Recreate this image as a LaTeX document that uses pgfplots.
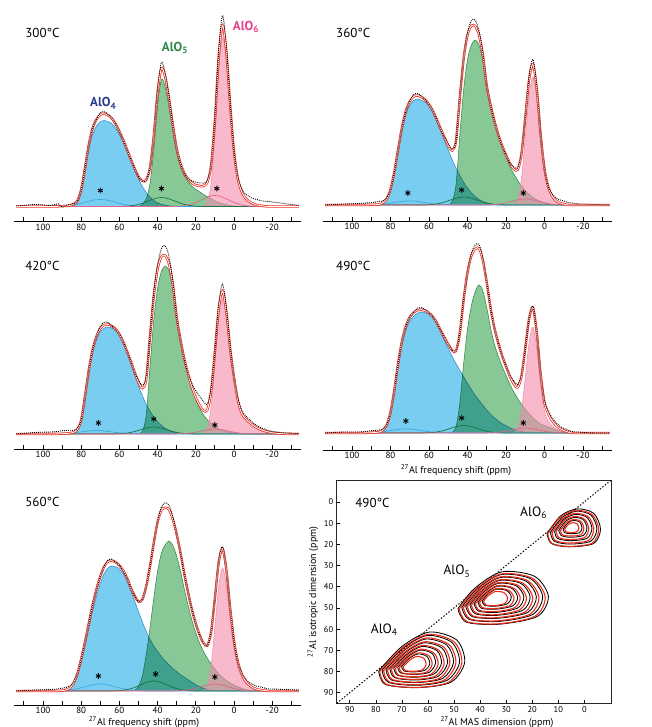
\documentclass[border=0pt]{standalone}
\usepackage{pgfplots}
\pgfplotsset{compat=1.18}
\usepackage{pgfplotstable}
\usepackage{fontspec}
\setmainfont{PT Sans}

\definecolor{bluefill}{RGB}{120,205,240}
\definecolor{greenfill}{RGB}{135,200,150}
\definecolor{pinkfill}{RGB}{243,138,172}
\definecolor{blueedge}{RGB}{80,150,205}
\definecolor{greenedge}{RGB}{70,150,95}
\definecolor{pinkedge}{RGB}{235,135,170}
\definecolor{bsline}{RGB}{60,170,225}
\definecolor{gsline}{RGB}{25,115,65}
\definecolor{psline}{RGB}{225,100,140}
\definecolor{fitred}{RGB}{235,50,35}
\definecolor{lblue}{RGB}{40,60,140}
\definecolor{lgreen}{RGB}{45,135,70}
\definecolor{lpink}{RGB}{232,65,140}
\definecolor{cred}{RGB}{232,45,25}

% columns: shift, AlO4, AlO5, AlO6, three minor sites, total fit, measured
\pgfplotstableread{
x b g p bs gs ps f d
114 0 0 0 0 0 0 0 0.5
104 0 0 0 0 0 0 0 2
96 0 0 0 0 0 0 0 1
92 0 0 0 0.15 0 0 0.15 2.65
90 0 0 0 0.3 0 0 0.3 -0.7
88 0 0 0 0.6 0 0 0.6 1.1
86 0 0 0 0.9 0 0 0.9 1.9
84 0.9 0 0 1.5 0 0 2.4 2.9
82 3.4 0 0 2.3 0 0 5.7 5.7
80 13.8 0 0 3.2 0 0 17.0 17.0
78 34.4 0 0 4.2 0 0 38.6 38.6
76 56.8 0 0 5.3 0 0 62.1 62.1
74 72.2 0 0 6.2 0 0 78.4 78.4
72 80.4 0 0 6.8 0 0 87.2 87.2
70 84.7 0 0 7 0 0 91.7 93.7
68 86 0 0 6.8 0 0 92.8 94.8
66 85.1 0 0 6.2 0 0 91.3 92.3
64 83.0 0 0 5.3 0 0 88.3 88.3
62 78.3 0 0 4.2 0 0 82.5 82.5
60 71.8 0 0 3.2 0 0 75.0 75.0
58 64.1 0 0 2.3 0.15 0 66.6 66.6
56 55.0 0 0 1.5 0.3 0 56.8 56.8
54 45.6 0 0 0.9 0.7 0 47.2 47.2
52 36.1 0 0 0.6 1.2 0 37.9 37.9
50 27.5 0 0 0.3 2.1 0 29.9 29.9
48 20.2 1.9 0 0.15 3.2 0 25.5 25.5
46 14.2 7.6 0 0 4.7 0 26.5 26.5
44 9.5 22.9 0 0 6.2 0 38.6 38.6
42 6.0 57.2 0 0 7.6 0 70.8 70.8
40 3.7 101.6 0 0 8.6 0 113.9 116.9
38 2.2 127 0 0 9 0 138.2 144.2
36 1.2 119.4 0 0 8.6 0 129.2 133.2
34 0.6 99.1 0 0 7.6 0 107.3 109.3
32 0.3 74.9 0 0 6.2 0 81.4 82.4
30 0 53.3 0 0 4.7 0.2 58.2 58.2
28 0 39.4 0 0 3.2 0.4 43.0 43.0
26 0 30.5 0 0 2.1 0.8 33.4 33.4
24 0 24.8 0 0 1.2 1.5 27.5 27.5
22 0 20.3 0 0 0.7 2.5 23.5 25.5
20 0 17.1 0 0 0.3 4.0 21.4 24.4
18 0 14.6 0 0 0.15 5.7 20.5 23.5
16 0 12.1 0.7 0 0 7.6 20.4 23.4
14 0 9.8 4.9 0 0 9.3 24.0 26.0
12 0 7.6 22.8 0 0 10.6 41.0 42.0
10 0 5.7 69.3 0 0 11 86.0 88.0
8 0 4.1 135.2 0 0 10.6 149.9 155.9
6 0 2.8 169 0 0 9.3 181.1 191.1
4 0 1.8 145.3 0 0 7.6 154.7 159.7
2 0 1.0 94.6 0 0 5.7 101.3 103.3
0 0 0.5 50.7 0 0 4.0 55.2 56.2
-2 0 0 25.4 0 0 2.5 27.9 29.9
-4 0 0 13.5 0 0 1.5 15.0 18.0
-6 0 0 7.6 0 0 0.8 8.4 12.4
-8 0 0 4.6 0 0 0.4 5.0 10.0
-10 0 0 2.7 0 0 0.2 2.9 7.9
-12 0 0 1.5 0 0 0 1.5 7.0
-14 0 0 0.8 0 0 0 0.8 5.8
-16 0 0 0.3 0 0 0 0.3 5.3
-18 0 0 0 0 0 0 0 5
-20 0 0 0 0 0 0 0 4.5
-26 0 0 0 0 0 0 0 3
-34 0 0 0 0 0 0 0 1
}\tabA

\pgfplotstableread{
x b g p bs gs ps f d
114 0 0 0 0 0 0 0 0
104 0 0 0 0 0 0 0 1
96 0 0 0 0 0 0 0 1.5
92 0 0 0 0.1 0 0 0.1 2.1
90 0 0 0 0.2 0 0 0.2 2.2
88 0 0 0 0.3 0 0 0.3 2.8
86 0 0 0 0.5 0 0 0.5 3.5
84 1.3 0 0 0.9 0 0 2.2 4.2
82 4.8 0 0 1.3 0 0 6.1 7.1
80 13.8 0 0 1.8 0 0 15.6 15.6
78 30.7 0 0 2.4 0 0 33.1 33.1
76 53.0 0 0 3.0 0 0 56.0 56.0
74 74.2 0 0 3.5 0 0 77.7 77.7
72 90.1 0 0 3.9 0 0 94.0 94.0
70 99.6 0 0 4 0 0 103.6 103.6
68 104.4 0 0 3.9 0 0 108.3 110.3
66 106 0 0 3.5 0 0 109.5 111.5
64 104.9 0 0 3.0 0 0 107.9 108.9
62 102.8 0 0 2.4 0.1 0 105.3 105.3
60 98.6 0 0 1.8 0.3 0 100.7 100.7
58 92.2 0 0 1.3 0.6 0 94.1 94.1
56 83.7 0 0 0.9 1.1 0 85.7 85.7
54 74.2 0 0 0.5 1.8 0 76.5 76.5
52 64.7 0 0 0.3 2.9 0 67.9 67.9
50 55.1 0 0 0.2 4.2 0 59.5 61.0
48 45.6 3.3 0 0.1 5.5 0 54.5 55.5
46 37.1 19.8 0 0 6.8 0 63.7 63.7
44 29.7 69.3 0 0 7.7 0 106.7 106.7
42 22.8 115.5 0 0 8 0 146.3 146.3
40 17.0 145.2 0 0 7.7 0 169.9 171.9
38 12.2 160.1 0 0 6.8 0 179.1 184.1
36 8.5 165 0 0 5.5 0 179.0 185.0
34 5.6 160.1 0 0 4.2 0 169.9 173.9
32 3.5 143.6 0 0 2.9 0 150.0 152.0
30 2.1 115.5 0 0 1.8 0.1 119.5 119.5
28 1.2 97.4 0 0 1.1 0.2 99.9 99.9
26 0.5 82.5 0 0 0.6 0.4 84.0 84.0
24 0 69.3 0 0 0.3 0.8 70.4 70.4
22 0 57.8 0 0 0.1 1.4 59.3 59.3
20 0 47.9 0 0 0 2.2 50.1 50.1
18 0 38.8 0 0 0 3.1 41.9 41.9
16 0 31.4 0.6 0 0 4.2 36.2 38.2
14 0 24.8 5.1 0 0 5.1 35.0 37.0
12 0 19.0 25.6 0 0 5.8 50.4 51.4
10 0 14.4 66.6 0 0 6 87.0 87.0
8 0 10.6 108.8 0 0 5.8 125.2 128.2
6 0 7.6 128 0 0 5.1 140.7 145.7
4 0 5.3 106.2 0 0 4.2 115.7 118.7
2 0 3.5 64 0 0 3.1 70.6 71.6
0 0 2.1 32 0 0 2.2 36.3 36.3
-2 0 1.2 15.4 0 0 1.4 18.0 18.0
-4 0 0.5 7.7 0 0 0.8 9.0 11.0
-6 0 0 3.8 0 0 0.4 4.2 7.2
-8 0 0 1.9 0 0 0.2 2.1 5.1
-10 0 0 0.9 0 0 0.1 1.0 4.0
-12 0 0 0 0 0 0 0 2.5
-14 0 0 0 0 0 0 0 2
-16 0 0 0 0 0 0 0 1.5
-18 0 0 0 0 0 0 0 1
-20 0 0 0 0 0 0 0 1
-26 0 0 0 0 0 0 0 0.5
-34 0 0 0 0 0 0 0 0
}\tabB

\pgfplotstableread{
x b g p bs gs ps f d
114 0 0 0 0 0 0 0 0
104 0 0 0 0 0 0 0 1.5
96 0 0 0 0 0 0 0 2
92 0 0 0 0.15 0 0 0.15 2.65
90 0 0 0 0.3 0 0 0.3 3.3
88 0 0 0 0.5 0 0 0.5 3.5
86 0 0 0 0.8 0 0 0.8 3.8
84 0.5 0 0 1.1 0 0 1.6 3.6
82 3.2 0 0 1.6 0 0 4.8 5.8
80 11.8 0 0 2.1 0 0 13.9 13.9
78 35.3 0 0 2.6 0 0 37.9 37.9
76 61.0 0 0 3.1 0 0 64.1 64.1
74 81.3 0 0 3.4 0 0 84.7 84.7
72 94.2 0 0 3.5 0 0 97.7 97.7
70 102.2 0 0 3.4 0 0 105.6 107.6
68 105.9 0 0 3.1 0 0 109.0 111.5
66 107 0 0 2.6 0 0 109.6 111.6
64 105.9 0 0 2.1 0 0 108.0 108.0
62 103.3 0 0 1.6 0.1 0 105.0 105.0
60 98.4 0 0 1.1 0.3 0 99.8 99.8
58 91.0 0 0 0.8 0.5 0 92.3 92.3
56 81.3 0 0 0.5 0.9 0 82.7 82.7
54 70.6 0 0 0.3 1.6 0 72.5 72.5
52 58.9 0 0 0.15 2.5 0 61.6 61.6
50 48.2 0 0 0 3.6 0 51.8 53.8
48 38.5 2.5 0 0 4.8 0 45.8 48.8
46 30.0 18.4 0 0 5.9 0 54.3 56.3
44 23.0 67.2 0 0 6.7 0 96.9 96.9
42 17.1 114.1 0 0 7 0 138.2 140.2
40 12.3 146.1 0 0 6.7 0 165.1 169.1
38 8.6 162.8 0 0 5.9 0 177.3 185.3
36 5.7 167.9 0 0 4.8 0 178.4 188.4
34 3.6 162.8 0 0 3.6 0 170.0 177.0
32 2.1 144.4 0 0 2.5 0 149.0 152.0
30 1.2 114.1 0 0 1.6 0.1 117.0 117.0
28 0.5 92.4 0 0 0.9 0.2 94.0 94.0
26 0 73.9 0 0 0.5 0.4 74.8 74.8
24 0 58.8 0 0 0.3 0.7 59.8 59.8
22 0 45.3 0 0 0.1 1.1 46.5 50.5
20 0 34.4 0 0 0 1.8 36.2 43.2
18 0 26.1 0 0 0 2.6 28.7 37.7
16 0 19.3 0.7 0 0 3.5 23.5 32.5
14 0 14.3 5.4 0 0 4.2 23.9 29.9
12 0 10.4 27.0 0 0 4.8 42.2 45.2
10 0 7.5 70.2 0 0 5 82.7 82.7
8 0 5.4 114.8 0 0 4.8 125.0 129.0
6 0 3.7 135 0 0 4.2 142.9 149.9
4 0 2.5 116.1 0 0 3.5 122.1 126.1
2 0 1.6 81.0 0 0 2.6 85.2 87.2
0 0 1.0 54.0 0 0 1.8 56.8 56.8
-2 0 0.5 32.4 0 0 1.1 34.0 36.0
-4 0 0 20.3 0 0 0.7 21.0 24.0
-6 0 0 15 0 0 0.4 15.4 18.4
-8 0 0 11.5 0 0 0.2 11.7 14.7
-10 0 0 8.5 0 0 0.1 8.6 11.1
-12 0 0 6.2 0 0 0 6.2 8.2
-14 0 0 4.4 0 0 0 4.4 6.4
-16 0 0 3.0 0 0 0 3.0 5.0
-18 0 0 2.0 0 0 0 2.0 3.5
-20 0 0 1.2 0 0 0 1.2 2.7
-26 0 0 0.2 0 0 0 0.2 1.2
-34 0 0 0 0 0 0 0 0.5
}\tabC

\pgfplotstableread{
x b g p bs gs ps f d
114 0 0 0 0 0 0 0 0
104 0 0 0 0 0 0 0 1
96 0 0 0 0 0 0 0 1
92 0 0 0 0.2 0 0 0.2 1.7
90 0 0 0 0.3 0 0 0.3 2.3
88 0 0 0 0.5 0 0 0.5 2.5
86 0 0 0 0.9 0 0 0.9 2.9
84 1.5 0 0 1.3 0 0 2.8 3.8
82 6.1 0 0 1.8 0 0 7.9 7.9
80 18.2 0 0 2.4 0 0 20.6 20.6
78 39.9 0 0 3.0 0 0 42.9 42.9
76 66.6 0 0 3.5 0 0 70.1 70.1
74 88.3 0 0 3.9 0 0 92.2 92.2
72 102.9 0 0 4 0 0 106.9 106.9
70 111.9 0 0 3.9 0 0 115.8 115.8
68 116.8 0 0 3.5 0 0 120.3 120.3
66 119.8 0 0 3.0 0 0 122.8 124.8
64 121 0 0 2.4 0 0 123.4 125.4
62 120.4 0 0 1.8 0.1 0 122.3 123.3
60 118.6 0 0 1.3 0.3 0 120.2 120.2
58 115.0 0 0 0.9 0.5 0 116.4 116.4
56 108.9 0 0 0.5 1.0 0 110.4 110.4
54 101.0 0 0 0.3 1.7 0 103.0 103.0
52 92.6 0 0 0.2 2.7 0 95.5 95.5
50 84.7 0 0 0.1 3.9 0 88.7 88.7
48 76.8 0.7 0 0 5.2 0 82.7 82.7
46 69.6 5.9 0 0 6.4 0 81.9 81.9
44 62.9 29.6 0 0 7.2 0 99.7 99.7
42 56.3 69.6 0 0 7.5 0 133.4 133.4
40 49.6 103.6 0 0 7.2 0 160.4 160.4
38 43.6 127.3 0 0 6.4 0 177.3 179.3
36 37.5 141.3 0 0 5.2 0 184.0 188.0
34 32.7 148 0 0 3.9 0 184.6 188.6
32 27.8 142.1 0 0 2.7 0 172.6 174.6
30 23.0 125.8 0 0 1.7 0.1 150.6 150.6
28 18.8 105.1 0 0 1.0 0.2 125.1 125.1
26 15.1 88.8 0 0 0.5 0.4 104.8 104.8
24 12.1 77.0 0 0 0.3 0.7 90.1 90.1
22 9.4 66.6 0 0 0.1 1.1 77.2 77.2
20 7.3 57.7 0 0 0 1.8 66.8 66.8
18 5.3 48.8 0 0 0 2.6 56.7 57.7
16 3.8 41.4 0.5 0 0 3.5 49.2 52.2
14 2.4 34.8 4.2 0 0 4.2 45.6 48.6
12 1.5 28.9 21.2 0 0 4.8 56.4 57.4
10 0.7 23.7 55.1 0 0 5 84.5 84.5
8 0 19.2 90.1 0 0 4.8 114.1 114.1
6 0 15.2 106 0 0 4.2 125.4 126.9
4 0 11.8 84.8 0 0 3.5 100.1 100.1
2 0 8.9 47.7 0 0 2.6 59.2 59.2
0 0 7.4 21.2 0 0 1.8 30.4 32.4
-2 0 6.0 12 0 0 1.1 19.1 22.1
-4 0 4.5 7 0 0 0.7 12.2 15.2
-6 0 3 4 0 0 0.4 7.4 10.4
-8 0 2 2.2 0 0 0.2 4.4 6.9
-10 0 1.2 1.2 0 0 0.1 2.5 4.5
-12 0 0.6 0.5 0 0 0 1.1 3.1
-14 0 0 0 0 0 0 0 1.5
-16 0 0 0 0 0 0 0 1
-18 0 0 0 0 0 0 0 1
-20 0 0 0 0 0 0 0 0.5
-26 0 0 0 0 0 0 0 0
-34 0 0 0 0 0 0 0 0
}\tabD

\pgfplotstableread{
x b g p bs gs ps f d
114 0 0 0 0 0 0 0 0
104 0 0 0 0 0 0 0 1
96 0 0 0 0 0 0 0 1.5
92 0 0 0 0.15 0 0 0.15 2.15
90 0 0 0 0.3 0 0 0.3 2.8
88 0.4 0 0 0.6 0 0 1.0 3.5
86 1.9 0 0 0.9 0 0 2.8 4.8
84 6.3 0 0 1.5 0 0 7.8 8.8
82 15.0 0 0 2.3 0 0 17.3 17.3
80 28.8 0 0 3.2 0 0 32.0 32.0
78 45.0 0 0 4.2 0 0 49.2 49.2
76 62.5 0 0 5.3 0 0 67.8 67.8
74 80.0 0 0 6.2 0 0 86.2 86.2
72 95.0 0 0 6.8 0 0 101.8 101.8
70 107.5 0 0 7 0 0 114.5 114.5
68 117.5 0 0 6.8 0 0 124.3 124.3
66 123.1 0 0 6.2 0 0 129.3 130.8
64 125 0 0 5.3 0 0 130.3 131.8
62 124.4 0 0 4.2 0.2 0 128.8 128.8
60 121.9 0 0 3.2 0.4 0 125.5 125.5
58 117.5 0 0 2.3 0.7 0 120.5 120.5
56 110.0 0 0 1.5 1.4 0 112.9 112.9
54 100.0 0 0 0.9 2.3 0 103.2 103.2
52 90.0 0.8 0 0.6 3.6 0 95.0 95.0
50 79.4 4.5 0 0.3 5.2 0 89.4 89.4
48 69.4 15.0 0 0.15 6.9 0 91.5 91.5
46 60.0 36.0 0 0 8.5 0 104.5 104.5
44 51.9 63.0 0 0 9.6 0 124.5 124.5
42 45.0 93.0 0 0 10 0 148.0 148.0
40 39.4 120.0 0 0 9.6 0 169.0 169.0
38 34.4 138.0 0 0 8.5 0 180.9 183.9
36 30.0 146.3 0 0 6.9 0 183.2 188.2
34 26.3 150 0 0 5.2 0 181.5 185.5
32 22.5 145.5 0 0 3.6 0 171.6 173.6
30 19.4 135.0 0 0 2.3 0.1 156.8 156.8
28 16.3 120.0 0 0 1.4 0.3 138.0 138.0
26 13.8 102.0 0 0 0.7 0.5 117.0 117.0
24 11.3 85.5 0 0 0.4 1.0 98.2 98.2
22 8.8 70.5 0 0 0.2 1.6 81.1 81.1
20 6.3 58.5 0 0 0 2.5 67.3 67.3
18 4.4 48.0 0 0 0 3.6 56.0 56.0
16 2.8 39.8 0.6 0 0 4.9 48.1 48.1
14 1.5 33.0 4.9 0 0 5.9 45.3 45.3
12 0.6 27.0 24.6 0 0 6.7 58.9 58.9
10 0 21.8 64.0 0 0 7 92.8 92.8
8 0 17.3 104.6 0 0 6.7 128.6 129.6
6 0 13.5 123 0 0 5.9 142.4 144.4
4 0 10.5 105.8 0 0 4.9 121.2 121.2
2 0 8.0 71.3 0 0 3.6 82.9 82.9
0 0 6.0 41.8 0 0 2.5 50.3 50.3
-2 0 4.2 23.4 0 0 1.6 29.2 29.2
-4 0 2.7 13.5 0 0 1.0 17.2 18.2
-6 0 1.5 8.0 0 0 0.5 10.0 12.0
-8 0 0.8 4.9 0 0 0.3 6.0 8.5
-10 0 0 3.1 0 0 0.1 3.2 6.2
-12 0 0 1.8 0 0 0 1.8 4.8
-14 0 0 1.0 0 0 0 1.0 4.0
-16 0 0 0.5 0 0 0 0.5 3.0
-18 0 0 0 0 0 0 0 2
-20 0 0 0 0 0 0 0 2
-26 0 0 0 0 0 0 0 1.5
-34 0 0 0 0 0 0 0 1
}\tabE

\pgfplotsset{
  spec/.style={
    scale only axis,
    xmin=-35, xmax=115, x dir=reverse,
    ymax=200,
    axis x line=bottom, axis y line=none,
    axis line style={-, line width=0.9pt},
    every outer x axis line/.append style={-},
    xtick={-20,0,20,40,60,80,100},
    xticklabels={-20,0,20,40,60,80,100},
    minor xtick={-30,-10,10,30,50,70,90,110},
    tick align=inside,
    major tick length=4pt, minor tick length=4pt,
    every tick/.style={black, line width=0.8pt},
    xticklabel style={font=\fontsize{9}{10}\selectfont, yshift=1.2pt},
    clip=false,
  },
  star/.style={only marks, mark=asterisk, mark size=2.8pt,
    mark options={black, line width=0.9pt}},
  blk/.style={black, line width=0.85pt, smooth},
  rd/.style={cred, line width=1.1pt, smooth},
}

\newcommand{\drawspectrum}[1]{%
  \addplot[draw=blueedge, line width=0.5pt, fill=bluefill, blend mode=multiply, smooth] table[x=x,y=b]{#1};
  \addplot[draw=greenedge, line width=0.5pt, fill=greenfill, blend mode=multiply, smooth] table[x=x,y=g]{#1};
  \addplot[draw=pinkedge, line width=0.5pt, fill=pinkfill, fill opacity=0.6, smooth] table[x=x,y=p]{#1};
  \addplot[bsline, line width=0.7pt, smooth] table[x=x,y=bs]{#1};
  \addplot[gsline, line width=0.7pt, smooth] table[x=x,y=gs]{#1};
  \addplot[psline, line width=0.7pt, smooth] table[x=x,y=ps]{#1};
  \addplot[fitred, line width=2.4pt, smooth] table[x=x,y=f]{#1};
  \addplot[white, line width=0.8pt, smooth] table[x=x,y=f]{#1};
  \addplot[black, line width=0.9pt, dash pattern=on 0.9pt off 1.1pt, smooth] table[x=x,y=d]{#1};
}

\begin{document}
\begin{tikzpicture}[x=1pt, y=1pt]
\path[use as bounding box] (0,0) rectangle (651,727);

% 300 C
\begin{axis}[spec, at={(14.35pt,505.5pt)}, anchor=south west, width=286.5pt, ymin=-15, height=215pt]
\drawspectrum{\tabA}
\addplot[star] coordinates {(70,16) (38,18) (9,18)};
\end{axis}

% 360 C
\begin{axis}[spec, at={(323.1pt,506pt)}, anchor=south west, width=288.75pt, ymin=-16, height=216pt]
\drawspectrum{\tabB}
\addplot[star] coordinates {(71,12) (43,15) (11,12)};
\end{axis}

% 420 C
\begin{axis}[spec, at={(14.35pt,278pt)}, anchor=south west, width=286.5pt, ymin=-15, height=215pt]
\drawspectrum{\tabC}
\addplot[star] coordinates {(71,11) (42,15) (10,9)};
\end{axis}

% 490 C
\begin{axis}[spec, at={(323.1pt,277pt)}, anchor=south west, width=288.75pt, ymin=-17, height=217pt]
\drawspectrum{\tabD}
\addplot[star] coordinates {(72,12) (43,15) (11,10)};
\end{axis}

% 560 C
\begin{axis}[spec, at={(14.35pt,22pt)}, anchor=south west, width=286.5pt, ymin=-14, height=214pt]
\drawspectrum{\tabE}
\addplot[star] coordinates {(71,15) (41,17) (10,14)};
\end{axis}

% 2D correlation at 490 C: measured (black) and simulated (red) contours
\begin{axis}[at={(336.7pt,23.7pt)}, anchor=south west, scale only axis,
  width=275pt, height=222.6pt,
  xmin=-10.5, xmax=95, ymin=-10, ymax=95, x dir=reverse, y dir=reverse,
  xtick={0,10,20,30,40,50,60,70,80,90}, ytick={0,10,20,30,40,50,60,70,80,90},
  xticklabels={0,10,20,30,40,50,60,70,80,90}, yticklabels={0,10,20,30,40,50,60,70,80,90},
  tick align=inside, major tick length=3pt, tick pos=left,
  axis line style={line width=1.2pt, black!85},
  every tick/.style={black, line width=0.6pt},
  ticklabel style={font=\fontsize{8.5}{10}\selectfont},
]
\addplot[black, line width=1pt, dash pattern=on 1.4pt off 1.8pt] coordinates {(95,95) (-10.5,-10.5)};
% AlO4
\addplot[blk] coordinates {(78.9,79.8) (70,68.2) (59.5,61.4) (49,65.1) (45.9,75.6) (51.1,85) (63.7,87.6) (76.3,86.1) (78.9,79.8)};
\addplot[blk] coordinates {(77.6,79.4) (69.6,69.1) (60.2,63) (50.8,66.3) (47.9,75.7) (52.6,84.1) (63.9,86.5) (75.2,85.1) (77.6,79.4)};
\addplot[blk] coordinates {(76.1,79.1) (69.1,70) (60.9,64.7) (52.7,67.6) (50.2,75.8) (54.3,83.2) (64.2,85.2) (74,84) (76.1,79.1)};
\addplot[blk] coordinates {(74.6,78.7) (68.6,71) (61.6,66.5) (54.6,68.9) (52.5,75.9) (56,82.2) (64.4,84) (72.8,82.9) (74.6,78.7)};
\addplot[blk] coordinates {(73.1,78.3) (68.1,72) (62.3,68.2) (56.5,70.2) (54.8,76) (57.7,81.2) (64.6,82.7) (71.6,81.8) (73.1,78.3)};
\addplot[blk] coordinates {(71.6,78) (67.6,72.9) (63,69.9) (58.4,71.5) (57.1,76.1) (59.4,80.3) (64.9,81.4) (70.4,80.7) (71.6,78)};
\addplot[blk] coordinates {(70.1,77.6) (67.2,73.9) (63.8,71.7) (60.4,72.9) (59.3,76.3) (61,79.3) (65.1,80.2) (69.2,79.7) (70.1,77.6)};
\addplot[rd] coordinates {(78.5,80) (70,69) (60,62.5) (50,66) (47,76) (52,85) (64,87.5) (76,86) (78.5,80)};
\addplot[rd] coordinates {(77,79.6) (69.5,70) (60.7,64.2) (51.9,67.3) (49.3,76.1) (53.7,84) (64.2,86.2) (74.8,84.9) (77,79.6)};
\addplot[rd] coordinates {(75.5,79.3) (69,70.9) (61.4,66) (53.8,68.6) (51.6,76.2) (55.4,83.1) (64.5,85) (73.6,83.8) (75.5,79.3)};
\addplot[rd] coordinates {(74,78.9) (68.6,71.9) (62.2,67.7) (55.8,70) (53.8,76.4) (57,82.1) (64.7,83.7) (72.4,82.8) (74,78.9)};
\addplot[rd] coordinates {(72.5,78.6) (68.1,72.8) (62.9,69.5) (57.7,71.3) (56.1,76.5) (58.7,81.2) (65,82.5) (71.2,81.7) (72.5,78.6)};
\addplot[rd] coordinates {(71,78.2) (67.6,73.8) (63.6,71.2) (59.6,72.6) (58.4,76.6) (60.4,80.2) (65.2,81.2) (70,80.6) (71,78.2)};
\addplot[rd] coordinates {(69.5,77.8) (67.1,74.8) (64.3,72.9) (61.5,73.9) (60.7,76.7) (62.1,79.2) (65.4,79.9) (68.8,79.5) (69.5,77.8)};
% AlO5
\addplot[blk] coordinates {(48.5,50.4) (42.2,40.9) (31.7,33) (19.1,35.1) (13.8,44.6) (18,54) (32.7,57.7) (45.3,56.7) (48.5,50.4)};
\addplot[blk] coordinates {(47,49.8) (41.4,41.3) (32,34.3) (20.7,36.2) (16,44.6) (19.8,53.1) (32.9,56.4) (44.2,55.4) (47,49.8)};
\addplot[blk] coordinates {(45.5,49.2) (40.5,41.8) (32.3,35.7) (22.5,37.3) (18.4,44.7) (21.7,52.1) (33.2,54.9) (43,54.1) (45.5,49.2)};
\addplot[blk] coordinates {(43.9,48.6) (39.7,42.3) (32.7,37.1) (24.3,38.5) (20.8,44.8) (23.6,51.1) (33.4,53.5) (41.8,52.8) (43.9,48.6)};
\addplot[blk] coordinates {(42.3,48) (38.9,42.8) (33.1,38.4) (26.1,39.6) (23.2,44.8) (25.5,50) (33.6,52.1) (40.6,51.5) (42.3,48)};
\addplot[blk] coordinates {(40.8,47.4) (38,43.3) (33.4,39.8) (27.9,40.7) (25.6,44.9) (27.4,49) (33.9,50.6) (39.4,50.2) (40.8,47.4)};
\addplot[blk] coordinates {(39.2,46.8) (37.2,43.7) (33.8,41.2) (29.7,41.9) (28,44.9) (29.4,48) (34.1,49.2) (38.2,48.8) (39.2,46.8)};
\addplot[rd] coordinates {(48,50.5) (42,41.5) (32,34) (20,36) (15,45) (19,54) (33,57.5) (45,56.5) (48,50.5)};
\addplot[rd] coordinates {(46.4,49.9) (41.2,42) (32.4,35.4) (21.8,37.1) (17.4,45.1) (20.9,53) (33.2,56.1) (43.8,55.2) (46.4,49.9)};
\addplot[rd] coordinates {(44.9,49.3) (40.3,42.5) (32.7,36.8) (23.6,38.3) (19.8,45.1) (22.8,52) (33.5,54.6) (42.6,53.9) (44.9,49.3)};
\addplot[rd] coordinates {(43.3,48.7) (39.5,42.9) (33.1,38.1) (25.4,39.4) (22.2,45.2) (24.8,50.9) (33.7,53.2) (41.4,52.5) (43.3,48.7)};
\addplot[rd] coordinates {(41.8,48.1) (38.6,43.4) (33.4,39.5) (27.2,40.6) (24.6,45.2) (26.7,49.9) (34,51.7) (40.2,51.2) (41.8,48.1)};
\addplot[rd] coordinates {(40.2,47.5) (37.8,43.9) (33.8,40.9) (29,41.7) (27,45.3) (28.6,48.9) (34.2,50.3) (39,49.9) (40.2,47.5)};
\addplot[rd] coordinates {(38.6,46.9) (37,44.4) (34.2,42.3) (30.8,42.8) (29.4,45.4) (30.5,47.9) (34.4,48.9) (37.8,48.6) (38.6,46.9)};
% AlO6
\addplot[blk] coordinates {(14.3,14.9) (9,6.5) (2.7,3.3) (-3.6,5.4) (-6.2,12.8) (-3.6,19.6) (5.9,21.2) (12.7,19.6) (14.3,14.9)};
\addplot[blk] coordinates {(13,14.4) (8.4,7.2) (3,4.4) (-2.5,6.2) (-4.8,12.6) (-2.5,18.5) (5.7,19.9) (11.6,18.5) (13,14.4)};
\addplot[blk] coordinates {(11.4,13.9) (7.7,8.1) (3.3,5.9) (-1,7.3) (-2.9,12.4) (-1,17.2) (5.5,18.3) (10.3,17.2) (11.4,13.9)};
\addplot[blk] coordinates {(9.8,13.4) (7,9) (3.7,7.3) (0.4,8.4) (-1,12.3) (0.4,15.8) (5.4,16.7) (8.9,15.8) (9.8,13.4)};
\addplot[blk] coordinates {(8.1,12.8) (6.3,9.9) (4.1,8.7) (1.8,9.5) (0.9,12.1) (1.8,14.5) (5.2,15) (7.6,14.5) (8.1,12.8)};
\addplot[rd] coordinates {(14,15) (9,7) (3,4) (-3,6) (-5.5,13) (-3,19.5) (6,21) (12.5,19.5) (14,15)};
\addplot[rd] coordinates {(12.4,14.5) (8.3,7.9) (3.4,5.4) (-1.6,7.1) (-3.6,12.8) (-1.6,18.2) (5.8,19.4) (11.2,18.2) (12.4,14.5)};
\addplot[rd] coordinates {(10.8,13.9) (7.6,8.8) (3.7,6.9) (-0.1,8.2) (-1.7,12.6) (-0.1,16.8) (5.6,17.8) (9.8,16.8) (10.8,13.9)};
\addplot[rd] coordinates {(9.1,13.4) (6.8,9.7) (4.1,8.3) (1.3,9.2) (0.2,12.5) (1.3,15.5) (5.5,16.1) (8.5,15.5) (9.1,13.4)};
\addplot[rd] coordinates {(7.5,12.8) (6.1,10.6) (4.4,9.8) (2.8,10.3) (2.1,12.3) (2.8,14.1) (5.3,14.5) (7.1,14.1) (7.5,12.8)};
\end{axis}

% panel titles
\begin{scope}[every node/.style={font=\fontsize{13}{15}\selectfont, inner sep=0pt}]
\node at (42.5,693.7) {300°C};
\node at (353.3,693.7) {360°C};
\node at (42.5,461) {420°C};
\node at (353.3,461) {490°C};
\node at (42.5,225) {560°C};
\node at (372.5,224) {490°C};
\end{scope}
% site labels
\begin{scope}[every node/.style={font=\bfseries\fontsize{13}{15}\selectfont, inner sep=0pt, anchor=base west}]
\node[lblue] at (90,620) {AlO\textsubscript{4}};
\node[lgreen] at (161.7,675.7) {AlO\textsubscript{5}};
\node[lpink] at (232.7,696.7) {AlO\textsubscript{6}};
\end{scope}
\begin{scope}[every node/.style={font=\fontsize{13.5}{15}\selectfont, inner sep=0pt, anchor=base west}]
\node at (520,210.3) {AlO\textsubscript{6}};
\node at (443.3,152) {AlO\textsubscript{5}};
\node at (370.7,93.7) {AlO\textsubscript{4}};
\end{scope}
% axis titles
\begin{scope}[every node/.style={font=\fontsize{10}{12}\selectfont, inner sep=0pt}]
\node at (456,257) {\textsuperscript{27}Al frequency shift (ppm)};
\node at (144,4.8) {\textsuperscript{27}Al frequency shift (ppm)};
\node at (497,5) {\textsuperscript{27}Al MAS dimension (ppm)};
\node[rotate=90] at (313,135) {\textsuperscript{27}Al isotropic dimension (ppm)};
\end{scope}
\end{tikzpicture}
\end{document}
